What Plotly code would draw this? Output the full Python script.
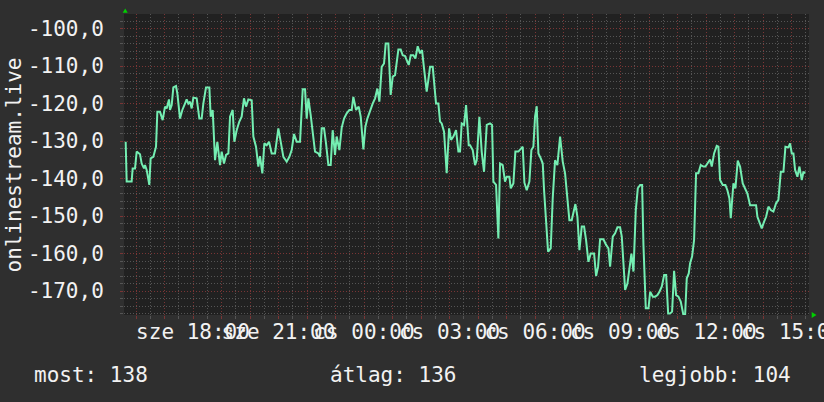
import plotly.graph_objects as go
from datetime import datetime, timedelta

# ---- data -------------------------------------------------------------
start_time = datetime(2024, 9, 18, 15, 34, 44)   # left edge of the graph
span_minutes = 1442                               # width of the time window

minutes = [
    3.5, 5.6, 16.1, 18.2, 23.2, 26.7, 33.7, 37.2, 42.1, 44.2, 47.7, 53.3, 56.1, 61.8, 67.4,
    70.2, 75.8, 81.4, 86.3, 89.8, 94.7, 96.8, 100.4, 103.9, 109.5, 112.3, 117.9, 122.8, 128.4,
    131.9, 135.4, 139.0, 142.5, 146.0, 153.0, 158.6, 163.5, 167.0, 172.6, 179.7, 182.5, 186.7,
    191.6, 196.5, 202.1, 205.6, 210.5, 214.8, 219.7, 223.2, 228.8, 232.3, 237.2, 242.8, 247.7,
    252.6, 256.9, 261.8, 268.8, 272.3, 277.9, 282.8, 286.3, 291.2, 295.5, 300.4, 305.3, 310.9,
    317.9, 324.9, 330.5, 335.5, 342.5, 348.1, 353.0, 357.9, 363.5, 370.6, 376.2, 381.1, 384.6,
    388.1, 393.0, 397.2, 402.1, 409.2, 412.7, 416.2, 421.1, 425.3, 430.2, 435.1, 439.3, 444.2,
    447.7, 453.4, 458.3, 463.2, 468.8, 474.4, 479.3, 482.8, 488.5, 494.1, 498.3, 503.9, 508.1,
    512.3, 517.9, 523.5, 528.5, 533.4, 537.6, 542.5, 547.4, 550.9, 556.5, 561.4, 565.7, 570.6,
    577.6, 582.5, 586.7, 591.6, 595.1, 599.4, 603.6, 609.2, 613.4, 618.3, 623.2, 627.4, 631.6,
    637.2, 640.7, 644.3, 649.9, 652.7, 656.9, 661.8, 665.3, 668.8, 673.7, 679.3, 684.3, 688.5,
    693.4, 699.0, 703.9, 707.4, 710.9, 715.9, 720.1, 725.7,
    728.5, 734.1, 739.0, 742.5, 748.1, 753.0, 757.9, 763.6, 770.6, 774.8, 777.6, 783.2, 788.1,
    791.6, 797.2, 802.1, 805.7, 811.3, 814.1, 819.7, 823.9, 830.2, 835.1, 839.4, 842.9, 847.8,
    853.4, 857.6, 861.8, 865.3, 868.8, 872.4, 877.3, 881.5, 884.3, 888.5, 892.7, 898.3, 902.5,
    907.4, 912.3, 918.0, 923.6, 928.5, 933.4, 937.6, 942.5, 946.0, 950.2, 954.5, 958.7, 963.6,
    968.5, 972.7, 977.6, 982.5, 989.6, 993.8, 998.0, 1002.2, 1009.2, 1014.9, 1019.8, 1023.3,
    1028.9, 1033.8, 1038.7, 1044.3, 1047.9, 1051.4, 1054.9, 1059.8, 1064.0, 1068.2, 1072.5,
    1077.4, 1081.6, 1086.5, 1090.7, 1093.5, 1098.4, 1104.1, 1107.6, 1113.2, 1118.1, 1123.0,
    1127.2, 1132.2, 1137.1, 1141.3, 1145.5, 1149.5, 1153.8, 1158.0, 1162.2, 1167.1, 1172.0,
    1177.6, 1181.2, 1184.7, 1188.9, 1191.7, 1195.9, 1200.1, 1204.3, 1209.2, 1214.1, 1219.7,
    1223.9, 1228.1, 1233.8, 1237.3, 1242.2, 1247.8, 1251.3, 1254.8, 1260.4, 1266.0, 1270.2,
    1274.5, 1277.3, 1282.9, 1287.1, 1292.0, 1296.9, 1302.5, 1307.4, 1312.3, 1318.0, 1325.0,
    1330.6, 1333.4, 1337.6, 1342.5, 1347.5, 1351.7, 1356.6, 1361.5, 1367.1, 1372.7, 1377.6,
    1382.6, 1388.2, 1392.4, 1398.7, 1402.2, 1405.7, 1409.2, 1412.7, 1417.6, 1421.9, 1426.8,
    1430.3, 1433.8,
]

values = [
    -130.2, -140.8, -140.8, -137.3, -137.3, -132.8, -133.5, -136.0, -137.3, -136.4, -137.7, -141.7, -134.6, -134.2, -131.5,
    -122.2, -122.2, -124.4, -120.8, -121.3, -118.9, -121.7, -120.4, -115.7, -115.3, -117.3, -124.0, -121.7, -120.0,
    -118.9, -120.0, -119.5, -121.3, -118.4, -118.6, -124.0, -124.0, -120.0, -115.7, -115.7, -123.5, -121.7,
    -135.1, -130.2, -136.4, -132.8, -136.0, -133.7, -133.3, -123.5, -121.7, -130.2, -127.1, -124.8, -123.5,
    -118.6, -120.8, -118.9, -119.1, -128.8, -131.5, -136.8, -134.0, -138.6, -130.6, -131.1, -130.2, -133.3,
    -133.3, -126.6, -130.6, -134.2, -135.5, -134.2, -132.4, -128.1, -130.2, -130.2, -116.2, -116.2, -124.0,
    -118.6, -123.1, -128.4, -132.8, -133.3, -134.2, -126.6, -126.6, -130.6, -136.4, -136.4, -127.1, -133.7,
    -128.8, -132.4, -126.4, -124.0, -122.6, -121.7, -121.7, -118.2, -121.7, -120.8, -123.5, -132.2, -126.2,
    -124.0, -121.7, -120.0, -118.6, -116.0, -119.5, -110.2, -109.3, -104.0, -104.0, -117.7, -112.8, -112.4,
    -105.6, -105.6, -107.1, -107.3, -108.4, -109.7, -107.1, -107.1, -108.0, -104.7, -106.6, -105.7, -110.6,
    -116.8, -113.7, -110.2, -110.2, -113.7, -120.0, -120.0, -124.8, -125.3, -127.5, -138.6, -126.6, -129.7,
    -128.8, -127.1, -132.8, -132.8, -125.3, -125.7, -120.4, -131.1,
    -131.1, -132.4, -136.4, -135.1, -123.5, -132.8, -138.2, -125.7, -125.3, -125.7, -140.8, -141.7, -156.0,
    -136.0, -136.4, -140.8, -139.5, -139.5, -142.6, -141.3, -132.8, -132.8, -132.2, -131.5, -141.1, -143.1,
    -140.8, -132.4, -131.5, -123.5, -120.7, -133.3, -134.6, -136.0, -143.1, -152.8, -159.5, -158.6, -145.3,
    -135.1, -136.4, -128.8, -135.5, -138.6, -145.3, -151.1, -151.1, -148.8, -146.8, -150.2, -159.1, -152.8,
    -152.8, -156.4, -162.2, -160.0, -160.0, -166.0, -163.5, -156.2, -156.2, -157.7, -158.6, -163.5,
    -155.5, -154.6, -153.0, -153.0, -155.5, -162.6, -169.7, -168.0, -164.4, -160.0, -164.8,
    -148.4, -142.6, -141.7, -141.7, -157.7, -174.6, -174.6, -170.2, -171.5, -171.5, -171.1,
    -170.2, -168.8, -165.7, -165.7, -176.0, -176.0, -175.5, -164.6, -171.1, -171.5, -172.8,
    -176.4, -176.4, -166.6, -165.3, -162.6, -160.8, -156.4, -138.6, -138.6, -136.4, -136.8,
    -136.8, -136.0, -134.9, -136.8, -133.3, -131.3, -131.5, -140.4, -141.7, -141.7, -143.1,
    -145.3, -150.6, -141.3, -142.6, -135.2, -136.8, -141.3, -142.6, -144.0, -147.1, -147.1,
    -147.1, -150.2, -151.5, -153.3, -151.5, -150.2, -147.5, -148.4, -148.8, -146.6, -145.7,
    -138.2, -138.2, -131.5, -131.7, -130.6, -133.3, -133.3, -137.7, -139.5, -136.8, -140.4,
    -138.2, -138.6,
]

y_range = [-176.4, -96.1]
y_major = [-170, -160, -150, -140, -130, -120, -110, -100]
y_major_text = ["-170,0", "-160,0", "-150,0", "-140,0", "-130,0", "-120,0", "-110,0", "-100,0"]

first_hour_tick = datetime(2024, 9, 18, 16, 0)
hour_tick_count = 24
label_times = ["2024-09-18 18:00", "2024-09-18 21:00", "2024-09-19 00:00", "2024-09-19 03:00",
               "2024-09-19 06:00", "2024-09-19 09:00", "2024-09-19 12:00", "2024-09-19 15:00"]
label_texts = ["sze 18:00", "sze 21:00", "cs 00:00", "cs 03:00",
               "cs 06:00", "cs 09:00", "cs 12:00", "cs 15:00"]

y_title = "onlinestream.live"
stat_texts = ["most: 138", "átlag: 136", "legjobb: 104"]

# ---- styling ------------------------------------------------------------
FONT = "DejaVu Sans Mono"
BG = "#2f2f2f"
PLOT_BG = "#212121"
MAJOR = "#7a3535"
MINOR = "#555555"
LINE = "#74eeb2"
ARROW = "#00d000"
TXT = "#f2f2f2"

times = [start_time + timedelta(minutes=m) for m in minutes]
x_range = [start_time, start_time + timedelta(minutes=span_minutes)]

hour_ticks = [first_hour_tick + timedelta(hours=h) for h in range(hour_tick_count)]
label_map = {datetime.strptime(t, "%Y-%m-%d %H:%M"): s for t, s in zip(label_times, label_texts)}
hour_text = [label_map.get(t, "") for t in hour_ticks]
half_ticks = [t + timedelta(minutes=30) for t in [start_time.replace(minute=0, second=0)] + hour_ticks]

y_minor = [v for v in range(-176, -95, 2) if v % 10 != 0]

fig = go.Figure()
fig.add_trace(go.Scatter(
    x=times, y=values, mode="lines",
    line=dict(color=LINE, width=2),
    showlegend=False, hoverinfo="skip",
))

grid_dash = "1px,2px"

fig.update_layout(
    width=824, height=402,
    margin=dict(l=124, r=15, t=14, b=87, autoexpand=False),
    paper_bgcolor=BG, plot_bgcolor=PLOT_BG,
    font=dict(family=FONT, size=21, color=TXT),
    showlegend=False,
    xaxis=dict(
        type="date", range=x_range, automargin=False,
        tickmode="array", tickvals=hour_ticks, ticktext=hour_text,
        tickangle=0, ticklabeloverflow="allow",
        showgrid=True, gridcolor=MAJOR, griddash=grid_dash, gridwidth=1,
        ticks="outside", ticklen=3, tickcolor=MAJOR,
        tickfont=dict(family=FONT, size=21, color=TXT),
        ticklabelstandoff=-5,
        minor=dict(tickmode="array", tickvals=half_ticks, showgrid=True,
                   gridcolor=MINOR, griddash=grid_dash, gridwidth=1,
                   ticks="outside", ticklen=3, tickcolor=MINOR),
        zeroline=False, showline=False, fixedrange=True,
    ),
    yaxis=dict(
        range=y_range, automargin=False,
        tickmode="array", tickvals=y_major, ticktext=y_major_text,
        showgrid=True, gridcolor=MAJOR, griddash=grid_dash, gridwidth=1,
        ticks="outside", ticklen=3, tickcolor=MAJOR,
        tickfont=dict(family=FONT, size=21, color=TXT),
        ticklabelstandoff=12,
        minor=dict(tickmode="array", tickvals=y_minor, showgrid=True,
                   gridcolor=MINOR, griddash=grid_dash, gridwidth=1,
                   ticks="outside", ticklen=3, tickcolor=MINOR),
        zeroline=False, showline=False, fixedrange=True,
    ),
)

# y-axis title (rotated)
fig.add_annotation(text=y_title, xref="paper", yref="paper", x=-0.1606, y=0.5,
                   xanchor="center", yanchor="middle", textangle=-90, showarrow=False,
                   font=dict(family=FONT, size=21, color=TXT))

# stats row
for txt, px in zip(stat_texts, [-0.1343, 0.2978, 0.7489]):
    fig.add_annotation(text=txt, xref="paper", yref="paper", x=px, y=-0.1993,
                       xanchor="left", yanchor="middle", showarrow=False,
                       font=dict(family=FONT, size=21, color=TXT))

# rrdtool-style axis arrows
fig.add_shape(type="path", xref="paper", yref="paper",
              path="M -0.0019 1.0043 L 0.0054 1.0043 L 0.0018 1.0183 Z",
              fillcolor=ARROW, line=dict(width=0))
fig.add_shape(type="path", xref="paper", yref="paper",
              path="M 1.0039 0.0100 L 1.0039 -0.0100 L 1.0109 0 Z",
              fillcolor=ARROW, line=dict(width=0))

fig.write_html(
    "out.html",
    config={"displayModeBar": False},
    post_script="document.body.style.margin='0';document.body.style.overflow='hidden';",
)
